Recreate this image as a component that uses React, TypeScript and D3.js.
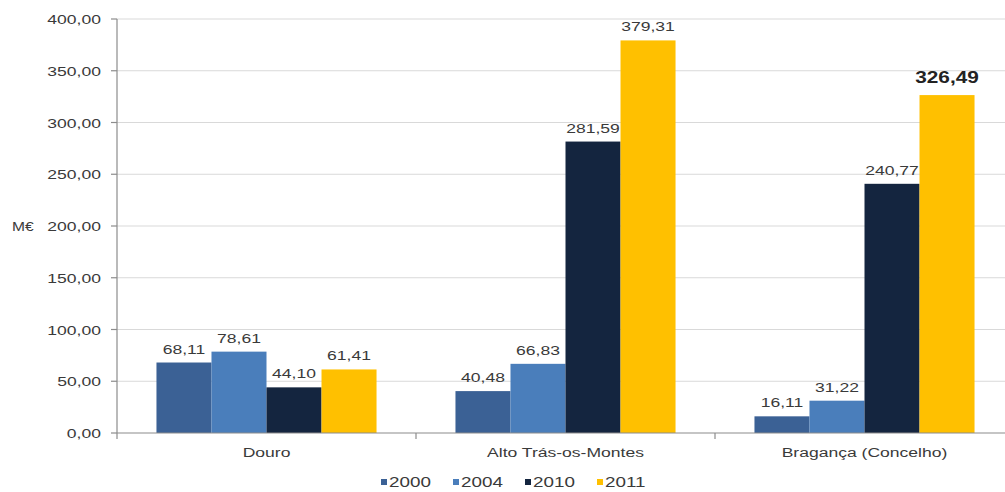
import React from "react";
import * as d3 from "d3";

// Regions compared
const categories: string[] = ["Douro", "Alto Trás-os-Montes", "Bragança (Concelho)"];
// Years (series) and their values in M€
const years: string[] = ["2000", "2004", "2010", "2011"];
const values2000: number[] = [68.11, 40.48, 16.11];
const values2004: number[] = [78.61, 66.83, 31.22];
const values2010: number[] = [44.1, 281.59, 240.77];
const values2011: number[] = [61.41, 379.31, 326.49];
const yTicks: number[] = [0, 50, 100, 150, 200, 250, 300, 350, 400];
const colors: string[] = ["#3B6195", "#4A7EBB", "#14253F", "#FFC000"];

const seriesValues = [values2000, values2004, values2010, values2011];

const W = 1005;
const H = 492;
const left = 117;
const bandStep = 299;
const top = 19;
const bottom = 433;
const SX = 1.3; // horizontal stretch of all lettering
const FONT = "'Liberation Sans', Arial, sans-serif";
const TEXT = "#3A3A3A";

const fmt = (v: number) => v.toFixed(2).replace(".", ",");

function SText(props: {
  x: number;
  y: number;
  anchor?: "start" | "middle" | "end";
  size: number;
  weight?: string | number;
  fill?: string;
  children: React.ReactNode;
}) {
  const { x, y, anchor = "middle", size, weight = "normal", fill = TEXT, children } = props;
  return (
    <text
      transform={`translate(${x},${y}) scale(${SX},1)`}
      textAnchor={anchor}
      fontFamily={FONT}
      fontSize={size}
      fontWeight={weight}
      fill={fill}
    >
      {children}
    </text>
  );
}

export default function App() {
  const x0 = d3
    .scaleBand<string>()
    .domain(categories)
    .range([left, left + bandStep * categories.length])
    .paddingInner(0.264)
    .paddingOuter(0.132);
  const x1 = d3.scaleBand<string>().domain(years).range([0, x0.bandwidth()]);
  const y = d3.scaleLinear().domain([0, 400]).range([bottom, top]);

  const boundaries = d3.range(categories.length + 1).map((i) => left + i * x0.step());

  return (
    <div style={{ position: "absolute", left: 0, top: 0 }}>
      <svg width={W} height={H} style={{ display: "block", background: "#fff" }}>
        {/* gridlines */}
        {yTicks.map((t) =>
          t === 0 ? null : (
            <line key={`g${t}`} x1={left} x2={W} y1={y(t)} y2={y(t)} stroke="#D9D9D9" strokeWidth={1.2} />
          )
        )}

        {/* bars */}
        {categories.map((c, ci) =>
          years.map((yr, si) => {
            const v = seriesValues[si][ci];
            const bx = (x0(c) as number) + (x1(yr) as number);
            return (
              <rect
                key={`b${ci}-${si}`}
                x={bx}
                y={y(v)}
                width={x1.bandwidth()}
                height={bottom - y(v)}
                fill={colors[si]}
              />
            );
          })
        )}

        {/* value labels */}
        {categories.map((c, ci) =>
          years.map((yr, si) => {
            const v = seriesValues[si][ci];
            const cx = (x0(c) as number) + (x1(yr) as number) + x1.bandwidth() / 2;
            const emphasised = ci === 2 && si === 3;
            return (
              <SText
                key={`l${ci}-${si}`}
                x={cx}
                y={y(v) - (emphasised ? 12 : 9)}
                size={emphasised ? 16 : 13.5}
                weight={emphasised ? "bold" : "normal"}
                fill={emphasised ? "#222" : TEXT}
              >
                {fmt(v)}
              </SText>
            );
          })
        )}

        {/* y axis */}
        <line x1={left} x2={left} y1={top} y2={bottom} stroke="#8C8C8C" strokeWidth={1.2} />
        {yTicks.map((t) => (
          <g key={`yt${t}`}>
            <line x1={left - 6} x2={left} y1={y(t)} y2={y(t)} stroke="#8C8C8C" strokeWidth={1.2} />
            <SText x={left - 16} y={y(t) + 5} anchor="end" size={13.5}>
              {fmt(t)}
            </SText>
          </g>
        ))}
        <SText x={12} y={y(200) + 5} anchor="start" size={12}>
          M€
        </SText>

        {/* x axis */}
        <line x1={left} x2={W} y1={bottom} y2={bottom} stroke="#8C8C8C" strokeWidth={1.2} />
        {boundaries.map((bx, i) => (
          <line key={`xt${i}`} x1={bx} x2={bx} y1={bottom} y2={bottom + 6} stroke="#8C8C8C" strokeWidth={1.2} />
        ))}
        {categories.map((c) => (
          <SText key={`c${c}`} x={(x0(c) as number) + x0.bandwidth() / 2} y={457} size={13.5}>
            {c}
          </SText>
        ))}

        {/* legend */}
        {years.map((yr, i) => {
          const lx = 381 + i * 72;
          return (
            <g key={`lg${yr}`}>
              <rect x={lx} y={479} width={6} height={6} fill={colors[i]} />
              <SText x={lx + 8} y={487} anchor="start" size={14.5}>
                {yr}
              </SText>
            </g>
          );
        })}
      </svg>
    </div>
  );
}
